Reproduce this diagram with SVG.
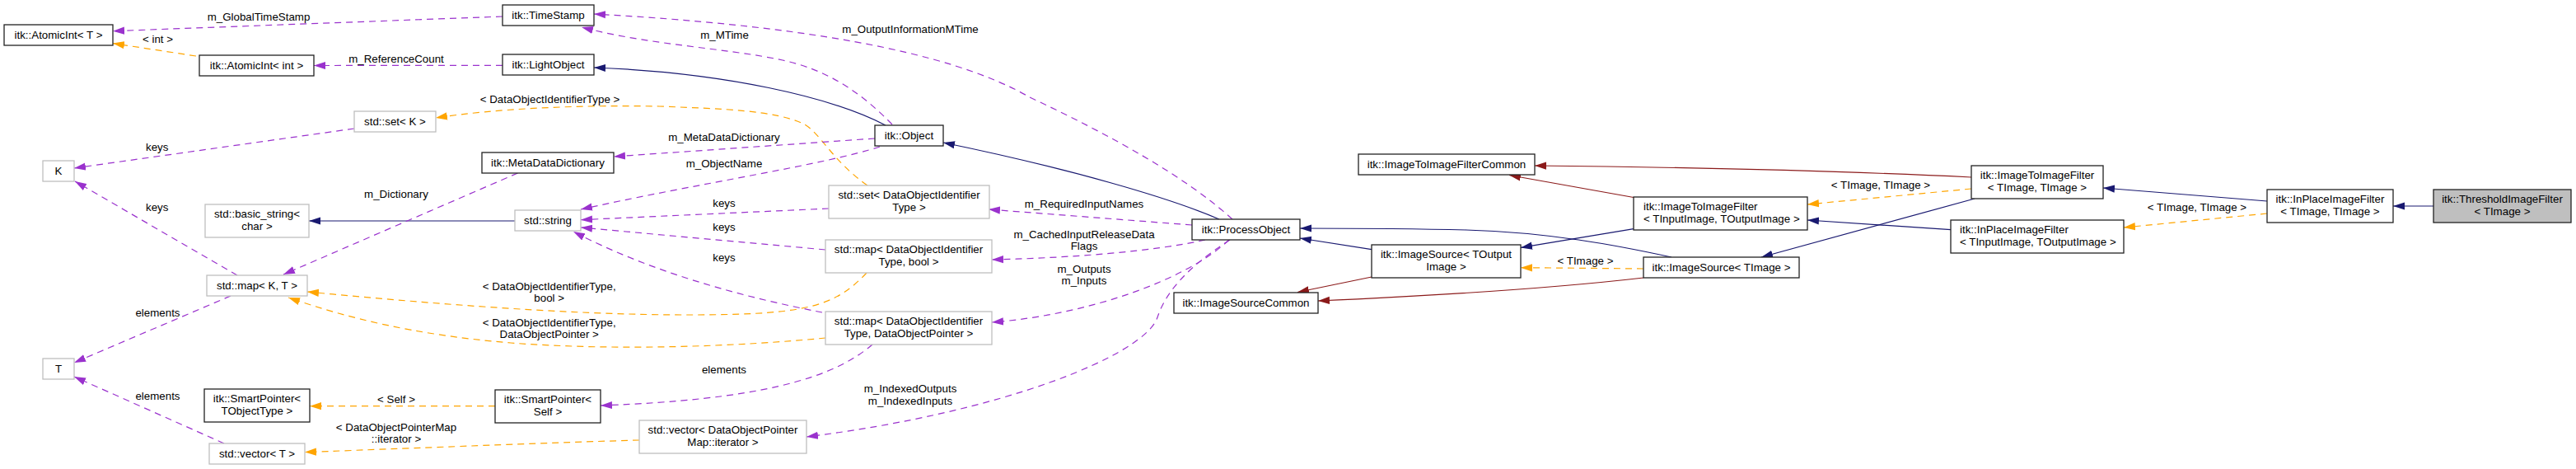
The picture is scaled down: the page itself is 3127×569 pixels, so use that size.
<svg xmlns="http://www.w3.org/2000/svg" width="3127" height="569" viewBox="0 0 3127 569">
<style>
text{font-family:"Liberation Sans",Arial,sans-serif;font-size:13.33px;fill:#000}
.n rect{fill:#fff;stroke:#222;stroke-width:1.3}
.g rect{fill:#fff;stroke:#bfbfbf;stroke-width:1.3}
.n text,.g text,.l{text-anchor:middle}
.n text.la{text-anchor:start}
.e path{fill:none;stroke-width:1.2}
.u{stroke:#9a32cd;stroke-dasharray:8,6;marker-end:url(#mu)}
.t{stroke:#ffa500;stroke-dasharray:8,6;marker-end:url(#mt)}
.b{stroke:#191970;marker-end:url(#mb)}
.r{stroke:#8b1a1a;marker-end:url(#mr)}
</style>
<defs>
<marker id="mu" viewBox="0 0 14 10" refX="14" refY="5" markerWidth="14" markerHeight="10" markerUnits="userSpaceOnUse" orient="auto"><path d="M0,0.4L14,5L0,9.6z" fill="#9a32cd"/></marker>
<marker id="mt" viewBox="0 0 14 10" refX="14" refY="5" markerWidth="14" markerHeight="10" markerUnits="userSpaceOnUse" orient="auto"><path d="M0,0.4L14,5L0,9.6z" fill="#ffa500"/></marker>
<marker id="mb" viewBox="0 0 14 10" refX="14" refY="5" markerWidth="14" markerHeight="10" markerUnits="userSpaceOnUse" orient="auto"><path d="M0,0.4L14,5L0,9.6z" fill="#191970"/></marker>
<marker id="mr" viewBox="0 0 14 10" refX="14" refY="5" markerWidth="14" markerHeight="10" markerUnits="userSpaceOnUse" orient="auto"><path d="M0,0.4L14,5L0,9.6z" fill="#8b1a1a"/></marker>
</defs>
<rect width="3127" height="569" fill="#fff"/>
<g id="edges" class="e">
<path class="u" d="M610,20 L137,37.7"/>
<path class="t" d="M238,68 L137,52.6"/>
<path class="u" d="M610,79.3 L381,79.5"/>
<path class="b" d="M1075,152 C1010,118 880,88 721,82"/>
<path class="u" d="M1083,151 C1045,112 1005,85 950,73 C880,58 790,55 706,33"/>
<path class="u" d="M1496,266 C1440,215 1350,165 1250,118 C1150,60 960,30 721,17"/>
<path class="t" d="M1053,225 C1010,195 995,160 975,150 C940,134 880,132 800,129 C700,127 600,132 529,143"/>
<path class="u" d="M430,156 L90,204"/>
<path class="u" d="M288,334 L91,220"/>
<path class="u" d="M280,359 L90,440"/>
<path class="u" d="M272,538 L90,457"/>
<path class="b" d="M625,268 L375,268"/>
<path class="u" d="M628.5,210 L344,333"/>
<path class="t" d="M1052,331 C1020,365 990,378 900,381 C750,386 560,372 373,354"/>
<path class="t" d="M1002,410 C900,420 750,426 620,416 C500,406 420,385 350,361"/>
<path class="u" d="M1062,168 L745,190"/>
<path class="u" d="M1068,178 C1000,200 850,222 705,254"/>
<path class="u" d="M1006,253 L705,266.7"/>
<path class="u" d="M1002,303 L705,276"/>
<path class="u" d="M998,379 C900,360 790,330 696,281"/>
<path class="t" d="M601,492.7 L376,492.7"/>
<path class="t" d="M776,534 C700,536 600,540 370,548.6"/>
<path class="u" d="M1059,418 C1010,460 920,485 729,492"/>
<path class="u" d="M1492,291 C1440,340 1320,382 1204,391"/>
<path class="u" d="M1463,291 C1400,305 1300,313 1204,315"/>
<path class="u" d="M1447,273 L1200,254"/>
<path class="u" d="M1493,291 C1440,325 1415,355 1405,385 C1390,430 1220,500 979,530"/>
<path class="b" d="M1480,266 C1420,240 1300,205 1145,173"/>
<path class="b" d="M1665,302.7 L1578,289"/>
<path class="b" d="M2029,312 C1960,297 1880,282 1780,279 C1700,277 1640,277 1578,277"/>
<path class="r" d="M1665,336 L1575,354.5"/>
<path class="r" d="M1995,337 C1900,348 1780,357 1600,365"/>
<path class="t" d="M1995,326 L1846,324.7"/>
<path class="r" d="M1983,239.5 L1832,212.5"/>
<path class="r" d="M2393,215 C2250,208 2050,203 1863,201"/>
<path class="b" d="M1983,277.6 L1846,300.4"/>
<path class="t" d="M2393,229 L2194,248"/>
<path class="b" d="M2397,241 L2138,312"/>
<path class="b" d="M2368,278.7 L2194,267"/>
<path class="b" d="M2752,244 L2553,228"/>
<path class="t" d="M2752,259 L2578,276"/>
<path class="b" d="M2954,250 L2905,250"/>
</g>
<g id="edge-labels">
<text class="l" x="314" y="25">m_GlobalTimeStamp</text>
<text class="l" x="191.5" y="52">&lt; int &gt;</text>
<text class="l" x="481" y="75.5">m_ReferenceCount</text>
<text class="l" x="879.5" y="47">m_MTime</text>
<text class="l" x="1105" y="40">m_OutputInformationMTime</text>
<text class="l" x="667.5" y="125">&lt; DataObjectIdentifierType &gt;</text>
<text class="l" x="190.7" y="183">keys</text>
<text class="l" x="190.7" y="255.5">keys</text>
<text class="l" x="191.5" y="383.5">elements</text>
<text class="l" x="191.5" y="484.5">elements</text>
<text class="l" x="481" y="240">m_Dictionary</text>
<text class="l" x="666.7" y="352">&lt; DataObjectIdentifierType,</text>
<text class="l" x="666.7" y="366">bool &gt;</text>
<text class="l" x="666.7" y="395.5">&lt; DataObjectIdentifierType,</text>
<text class="l" x="666.7" y="410">DataObjectPointer &gt;</text>
<text class="l" x="879" y="171">m_MetaDataDictionary</text>
<text class="l" x="879" y="203">m_ObjectName</text>
<text class="l" x="879" y="250.5">keys</text>
<text class="l" x="879" y="279.5">keys</text>
<text class="l" x="879" y="316.5">keys</text>
<text class="l" x="481" y="488.5">&lt; Self &gt;</text>
<text class="l" x="481" y="522.5">&lt; DataObjectPointerMap</text>
<text class="l" x="481" y="536.5">::iterator &gt;</text>
<text class="l" x="879" y="453">elements</text>
<text class="l" x="1316" y="331">m_Outputs</text>
<text class="l" x="1316" y="345">m_Inputs</text>
<text class="l" x="1316" y="288.5">m_CachedInputReleaseData</text>
<text class="l" x="1316" y="303">Flags</text>
<text class="l" x="1316" y="252">m_RequiredInputNames</text>
<text class="l" x="1105" y="476">m_IndexedOutputs</text>
<text class="l" x="1105" y="490.5">m_IndexedInputs</text>
<text class="l" x="1924.5" y="321">&lt; TImage &gt;</text>
<text class="l" x="2283" y="228.5">&lt; TImage, TImage &gt;</text>
<text class="l" x="2667" y="256">&lt; TImage, TImage &gt;</text>
</g>
<g id="n1" class="n"><rect x="5" y="30" width="132" height="25"/><text x="71" y="46.5">itk::AtomicInt&lt; T &gt;</text></g>
<g id="n2" class="n"><rect x="242" y="67" width="139" height="25"/><text x="311.5" y="83.5">itk::AtomicInt&lt; int &gt;</text></g>
<g id="n3" class="n"><rect x="610" y="6" width="111" height="25"/><text x="665.5" y="22.5">itk::TimeStamp</text></g>
<g id="n4" class="n"><rect x="610" y="66" width="111" height="25"/><text x="665.5" y="82.5">itk::LightObject</text></g>
<g id="n5" class="g"><rect x="430" y="135" width="99" height="25"/><text x="479.5" y="151.5">std::set&lt; K &gt;</text></g>
<g id="n6" class="g"><rect x="52" y="195" width="38" height="25"/><text x="71" y="211.5">K</text></g>
<g id="n7" class="g"><rect x="249" y="248" width="126" height="40"/><text x="312" y="263.5">std::basic_string&lt;</text><text x="312" y="278.5">char &gt;</text></g>
<g id="n8" class="g"><rect x="251" y="334" width="122" height="25"/><text x="312" y="350.5">std::map&lt; K, T &gt;</text></g>
<g id="n9" class="g"><rect x="52" y="435" width="38" height="25"/><text x="71" y="451.5">T</text></g>
<g id="n10" class="n"><rect x="248" y="472" width="128" height="40"/><text x="312" y="487.5">itk::SmartPointer&lt;</text><text x="312" y="502.5">TObjectType &gt;</text></g>
<g id="n11" class="g"><rect x="254" y="538" width="116" height="25"/><text x="312" y="554.5">std::vector&lt; T &gt;</text></g>
<g id="n12" class="n"><rect x="585" y="185" width="160" height="25"/><text x="665" y="201.5">itk::MetaDataDictionary</text></g>
<g id="n13" class="g"><rect x="625" y="255" width="80" height="25"/><text x="665" y="271.5">std::string</text></g>
<g id="n14" class="n"><rect x="601" y="473" width="128" height="40"/><text x="665" y="488.5">itk::SmartPointer&lt;</text><text x="665" y="503.5">Self &gt;</text></g>
<g id="n15" class="g"><rect x="776" y="510" width="203" height="40"/><text x="877.5" y="525.5">std::vector&lt; DataObjectPointer</text><text x="877.5" y="540.5">Map::iterator &gt;</text></g>
<g id="n16" class="g"><rect x="1006" y="225" width="195" height="40"/><text x="1103.5" y="240.5">std::set&lt; DataObjectIdentifier</text><text x="1103.5" y="255.5">Type &gt;</text></g>
<g id="n17" class="g"><rect x="1002" y="291" width="202" height="40"/><text x="1103" y="306.5">std::map&lt; DataObjectIdentifier</text><text x="1103" y="321.5">Type, bool &gt;</text></g>
<g id="n18" class="g"><rect x="1002" y="378" width="202" height="40"/><text x="1103" y="393.5">std::map&lt; DataObjectIdentifier</text><text x="1103" y="408.5">Type, DataObjectPointer &gt;</text></g>
<g id="n19" class="n"><rect x="1062" y="152" width="83" height="25"/><text x="1103.5" y="168.5">itk::Object</text></g>
<g id="n20" class="n"><rect x="1447" y="266" width="131" height="25"/><text x="1512.5" y="282.5">itk::ProcessObject</text></g>
<g id="n21" class="n"><rect x="1425" y="355" width="175" height="25"/><text x="1512.5" y="371.5">itk::ImageSourceCommon</text></g>
<g id="n22" class="n"><rect x="1649" y="187" width="214" height="25"/><text x="1756" y="203.5">itk::ImageToImageFilterCommon</text></g>
<g id="n23" class="n"><rect x="1665" y="297" width="181" height="40"/><text x="1755.5" y="312.5">itk::ImageSource&lt; TOutput</text><text x="1755.5" y="327.5">Image &gt;</text></g>
<g id="n24" class="n"><rect x="1983" y="239" width="211" height="40"/><text class="la" x="1995" y="254.5">itk::ImageToImageFilter</text><text class="la" x="1995" y="269.5">&lt; TInputImage, TOutputImage &gt;</text></g>
<g id="n25" class="n"><rect x="1995" y="312" width="189" height="25"/><text x="2089.5" y="328.5">itk::ImageSource&lt; TImage &gt;</text></g>
<g id="n26" class="n"><rect x="2393" y="201" width="160" height="40"/><text x="2473" y="216.5">itk::ImageToImageFilter</text><text x="2473" y="231.5">&lt; TImage, TImage &gt;</text></g>
<g id="n27" class="n"><rect x="2368" y="267" width="210" height="40"/><text class="la" x="2379" y="282.5">itk::InPlaceImageFilter</text><text class="la" x="2379" y="297.5">&lt; TInputImage, TOutputImage &gt;</text></g>
<g id="n28" class="n"><rect x="2752" y="230" width="153" height="40"/><text x="2828.5" y="245.5">itk::InPlaceImageFilter</text><text x="2828.5" y="260.5">&lt; TImage, TImage &gt;</text></g>
<g id="n29" class="n"><rect x="2954" y="230" width="167" height="40" style="fill:#bfbfbf"/><text x="3037.5" y="245.5">itk::ThresholdImageFilter</text><text x="3037.5" y="260.5">&lt; TImage &gt;</text></g>
</svg>
